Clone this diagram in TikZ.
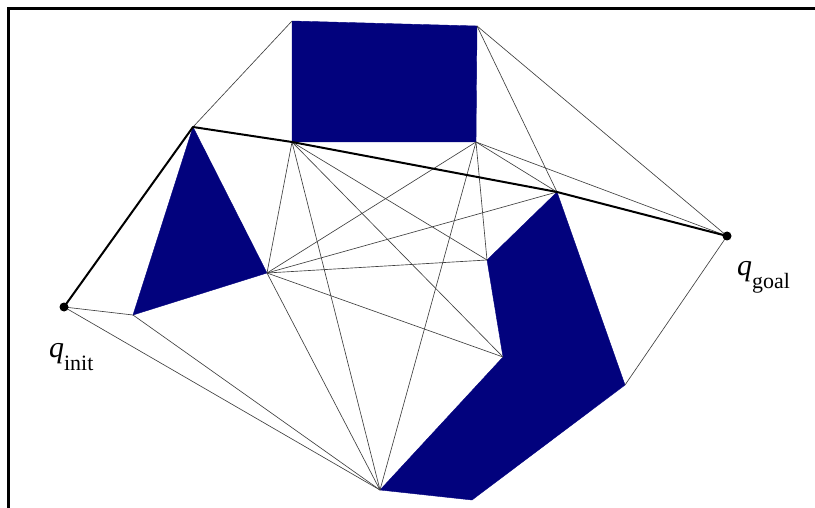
\documentclass[tikz,border=0pt]{standalone}
\usepackage{fontspec}
\setmainfont{Liberation Serif}
\usepackage{tikz}
\usetikzlibrary{arrows.meta,positioning,calc}

\definecolor{obstblue}{RGB}{2,2,125}

\tikzset{
  obstacle/.style={fill=obstblue,draw=obstblue,line width=0.4bp},
  visedge/.style={draw=black!75,line width=0.65bp},
  pathedge/.style={draw=black,line width=2bp,line join=round},
  endpt/.style={circle,fill=black,inner sep=0pt,minimum size=9bp},
  qlabel/.style={anchor=base west,inner sep=0pt,font=\fontsize{30}{32}\selectfont}
}

\newcommand{\qsub}[1]{\textit{q}\raisebox{-13bp}{\fontsize{22}{24}\selectfont #1}}

\begin{document}
\begin{tikzpicture}[x=1bp, y=-1bp]
  \useasboundingbox (0,0) rectangle (815,508);

  % frame (top and left edge only)
  \draw[line width=2.7bp] (8.5,508) -- (8.5,8.5) -- (815,8.5);

  % vertices
  \coordinate (qi)  at (64,307);
  \coordinate (qg)  at (727,236);
  \coordinate (tT)  at (193,127);
  \coordinate (tR)  at (267,273);
  \coordinate (tL)  at (133,315);
  \coordinate (rTL) at (292,21);
  \coordinate (rTR) at (477,26);
  \coordinate (rBL) at (292,142);
  \coordinate (rBR) at (476,142);
  \coordinate (pT)  at (557,192);
  \coordinate (pR)  at (625,385);
  \coordinate (pB)  at (472,500);
  \coordinate (pBL) at (380,490);
  \coordinate (pC)  at (503,357);
  \coordinate (pN)  at (487,260);

  % obstacles
  \filldraw[obstacle] (tT) -- (tR) -- (tL) -- cycle;
  \filldraw[obstacle] (rTL) -- (rTR) -- (rBR) -- (rBL) -- cycle;
  \filldraw[obstacle] (pT) -- (pR) -- (pB) -- (pBL) -- (pC) -- (pN) -- cycle;

  % visibility edges
  \foreach \a/\b in {qi/tL, qi/pBL, tL/pBL, tT/rTL, rTR/pT, rTR/qg,
                     rBR/pT, rBR/qg, rBR/tR, rBR/pBL, rBR/pN,
                     rBL/tR, rBL/pBL, rBL/pC, rBL/pN,
                     tR/pN, tR/pT, tR/pC, tR/pBL, qg/pR}
    \draw[visedge] (\a) -- (\b);

  % shortest path
  \draw[pathedge] (qi) -- (tT) -- (rBL) -- (pT) -- (qg);

  \node[endpt] (qidot) at (qi) {};
  \node[endpt] (qgdot) at (qg) {};

  \node[qlabel] (qilabel) at (49,357) {\qsub{init}};
  \node[qlabel] (qglabel) at (737,276) {\qsub{goal}};
\end{tikzpicture}
\end{document}
